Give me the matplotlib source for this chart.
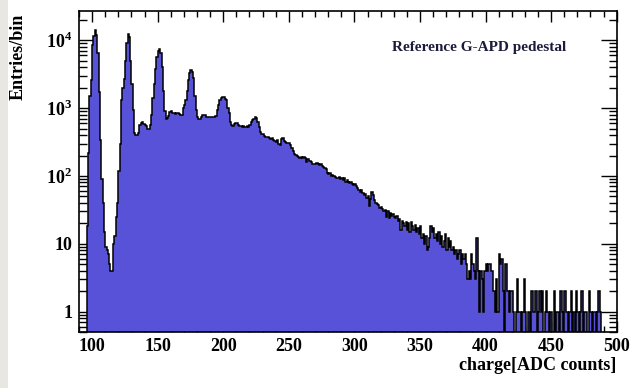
import numpy as np
import matplotlib
matplotlib.use("Agg")
import matplotlib.pyplot as plt
from matplotlib.ticker import FixedLocator, LogLocator, NullFormatter, FixedFormatter
from matplotlib.patches import Rectangle

plt.rcParams['font.family'] = ['Liberation Serif', 'DejaVu Serif']
plt.rcParams['font.weight'] = 'bold'
plt.rcParams['mathtext.fontset'] = 'custom'
plt.rcParams['mathtext.rm'] = 'Liberation Serif:bold'
plt.rcParams['mathtext.bf'] = 'Liberation Serif:bold'

# ---- data: histogram, 1 ADC-count bins starting at 90 ----
x_min = 90
bin_width = 1
counts_090_119 = [0, 0, 0, 0, 0, 0, 18, 220, 1500, 2600, 8500, 11500, 14000, 12000, 6400, 1700,
                  340, 90, 40, 15, 9, 8, 7, 5, 4, 4, 10, 13, 25, 40]
counts_120_169 = [120, 300, 1300, 2000, 2700, 5000, 9000, 12500, 11000, 5000,
                  2300, 930, 430, 400, 400, 430, 560, 600, 620, 580,
                  560, 540, 500, 490, 560, 800, 1400, 2300, 3800, 5600,
                  7000, 7400, 6500, 4000, 1800, 900, 700, 720, 760, 880,
                  900, 850, 840, 830, 850, 840, 810, 790, 800, 1000]
counts_170_219 = [1100, 1300, 1800, 2600, 3300, 3600, 3400, 2800, 1500, 930,
                  750, 700, 700, 740, 790, 800, 780, 740, 740, 730,
                  740, 740, 730, 740, 760, 930, 1100, 1300, 1400, 1480,
                  1450, 1350, 1300, 1000, 840, 620, 560, 540, 580, 600,
                  600, 570, 540, 550, 530, 540, 520, 530, 540, 530]
counts_220_269 = [560, 620, 660, 700, 740, 720, 630, 520, 440, 420,
                  410, 390, 380, 370, 380, 360, 350, 360, 340, 330,
                  320, 340, 300, 290, 350, 365, 330, 320, 310, 305,
                  310, 290, 260, 230, 210, 205, 200, 190, 186, 190,
                  185, 188, 186, 160, 180, 165, 168, 160, 150, 148]
counts_270_329 = [150, 155, 150, 145, 148, 140, 135, 132, 125, 110,
                  108, 112, 100, 104, 100, 98, 94, 92, 96, 90,
                  94, 88, 92, 80, 86, 82, 78, 80, 76, 74,
                  75, 70, 66, 62, 58, 62, 56, 52, 55, 48,
                  50, 36, 46, 57, 52, 44, 40, 38, 37, 34,
                  35, 33, 30, 31, 25, 30, 24, 28, 26, 27]
counts_330_389 = [25, 24, 26, 22, 23, 16, 22, 20, 18, 21,
                  16, 20, 15, 21, 18, 16, 19, 15, 17, 14,
                  18, 12, 14, 10, 13, 8, 9, 12, 18, 15,
                  17, 12, 14, 11, 15, 10, 13, 9, 11, 14,
                  8, 12, 9, 11, 8, 9, 7, 8, 6, 7,
                  8, 5, 7, 6, 7, 5, 3, 4, 3, 7]
counts_390_439 = [5, 4, 3, 12, 4, 1, 4, 3, 1, 4,
                  5, 4, 5, 5, 4, 4, 2, 1, 3, 1,
                  7, 5, 6, 2, 0, 5, 2, 2, 1, 2,
                  2, 1, 0, 1, 3, 1, 1, 0, 1, 3,
                  1, 0, 1, 1, 0, 2, 1, 1, 2, 0]
counts_440_499 = [1, 2, 1, 2, 0, 1, 2, 1, 0, 1,
                  1, 0, 2, 0, 1, 1, 0, 2, 1, 0,
                  2, 1, 1, 0, 1, 2, 0, 1, 0, 2,
                  1, 0, 1, 2, 0, 1, 1, 0, 0, 2,
                  1, 0, 1, 1, 0, 1, 2, 1, 0, 0,
                  0, 0, 0, 0, 0, 0, 0, 0, 0, 0]

x_ticks = [100, 150, 200, 250, 300, 350, 400, 450, 500]
x_tick_labels = ['100', '150', '200', '250', '300', '350', '400', '450', '500']
y_ticks = [1, 10, 100, 1000, 10000]
y_tick_labels = ['1', '10', r'$10^{2}$', r'$10^{3}$', r'$10^{4}$']
title_text = 'Reference G-APD pedestal'
x_label = 'charge[ADC counts]'
y_label = 'Entries/bin'

counts = np.array(counts_090_119 + counts_120_169 + counts_170_219 + counts_220_269 +
                  counts_270_329 + counts_330_389 + counts_390_439 + counts_440_499, dtype=float)
edges = x_min + bin_width * np.arange(len(counts) + 1)

floor = 1e-3
plot_vals = np.where(counts > 0, counts, floor)

fig = plt.figure(figsize=(6.31, 3.88), dpi=100)
fig.patches.append(Rectangle((0, 0), 8 / 631, 1, transform=fig.transFigure,
                             facecolor='#e9e7e1', edgecolor='none', zorder=0))
ax = fig.add_axes([79 / 631, 1 - 332 / 388, (616.7 - 79) / 631, (332 - 11) / 388])

ax.stairs(plot_vals, edges, baseline=floor, fill=True, color='#5852d8', lw=0, zorder=2)
ax.stairs(plot_vals, edges, baseline=floor, fill=False, color='black', lw=1.1, zorder=3)

ax.set_yscale('log')
ax.set_xlim(90, 500)
ax.set_ylim(0.5, 2.7e4)

ax.xaxis.set_major_locator(FixedLocator(x_ticks))
ax.xaxis.set_major_formatter(FixedFormatter(x_tick_labels))
ax.xaxis.set_minor_locator(FixedLocator(np.arange(90, 501, 10)))
ax.yaxis.set_major_locator(FixedLocator(y_ticks))
ax.yaxis.set_major_formatter(FixedFormatter(y_tick_labels))
ax.yaxis.set_minor_locator(LogLocator(base=10, subs=np.arange(2, 10), numticks=20))
ax.yaxis.set_minor_formatter(NullFormatter())

ax.tick_params(which='both', direction='in', top=True, right=True, width=1.0, color='black')
ax.tick_params(axis='x', which='major', length=8, pad=4, labelsize=13)
ax.tick_params(axis='x', which='minor', length=4.5)
ax.tick_params(axis='y', which='major', length=11.5, pad=5, labelsize=13)
ax.tick_params(axis='y', which='minor', length=6)
for lab in ax.get_xticklabels() + ax.get_yticklabels():
    lab.set_fontweight('bold')

for sp in ax.spines.values():
    sp.set_linewidth(1.2)
    sp.set_zorder(5)

ax.text(0.745, 0.885, title_text, transform=ax.transAxes, ha='center', va='center',
        fontsize=11, fontweight='bold', color='#1b1b3a')
fig.text(616.7 / 631, 1 - 365 / 388, x_label, ha='right', va='center',
         fontsize=13, fontweight='bold')
fig.text(18 / 631, 1 - 14 / 388, y_label, ha='center', va='top', rotation=90,
         fontsize=13, fontweight='bold')

fig.savefig('out.png', dpi=100)
